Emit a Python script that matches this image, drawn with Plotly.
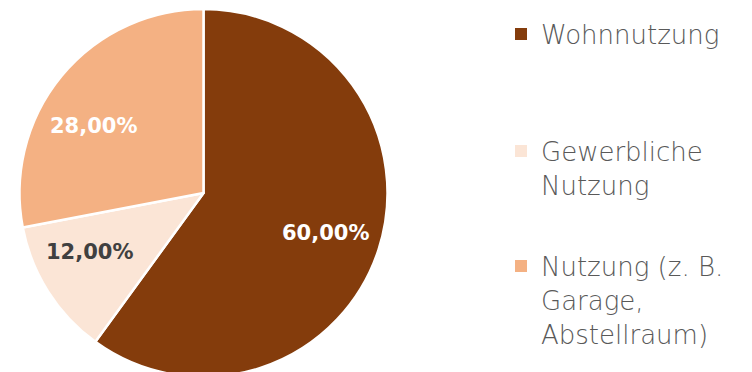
import math
import plotly.graph_objects as go

# Nutzungsanteile
categories = ["Wohnnutzung", "Gewerbliche Nutzung", "Nutzung (z. B. Garage, Abstellraum)"]
legend_labels = ["Wohnnutzung", "Gewerbliche<br>Nutzung", "Nutzung (z. B.<br>Garage,<br>Abstellraum)"]
shares = [60, 12, 28]
colors = ["#843C0C", "#FBE5D6", "#F4B183"]
label_colors = ["#FFFFFF", "#404040", "#FFFFFF"]

W, H = 752, 377

# pie geometry in pixels
cx, cy, R = 203.5, 193.0, 184.0

fig = go.Figure()

fig.add_trace(go.Pie(
    labels=categories,
    values=shares,
    sort=False,
    direction="clockwise",
    rotation=0,
    marker=dict(colors=colors, line=dict(color="#FFFFFF", width=2.5)),
    textinfo="none",
    domain=dict(x=[(cx - R) / W, (cx + R) / W], y=[1 - (cy + R) / H, 1 - (cy - R) / H]),
    showlegend=False,
    hoverinfo="label+percent",
))

# value labels placed inside each slice, around its bisector
label_radius = 0.70
label_angle_nudge = [0.0, -5.0, 8.0]  # degrees
total = sum(shares)
start = 90.0
annotations = []
for val, col, nudge in zip(shares, label_colors, label_angle_nudge):
    span = 360.0 * val / total
    mid = math.radians(start - span / 2 + nudge)
    start -= span
    px = cx + label_radius * R * math.cos(mid)
    py = cy - label_radius * R * math.sin(mid)
    annotations.append(dict(
        x=px / W, y=1 - py / H, xref="paper", yref="paper",
        xanchor="center", yanchor="middle", showarrow=False,
        text=f"{val:.2f}".replace(".", ",") + "%",
        font=dict(family="DejaVu Sans", size=21, weight="bold", color=col),
    ))

# Legend entries, each in its own legend box so the spacing can be set freely
legend_font = dict(family="DejaVu Sans", size=26, color="#595959", weight=300)
legend_tops = [10.5, 127.5, 242.5]
legend_ids = ["legend", "legend2", "legend3"]
for name, col, lid in zip(legend_labels, colors, legend_ids):
    fig.add_trace(go.Scatter(
        x=[None], y=[None], mode="markers",
        marker=dict(symbol="square", size=12, color=col),
        name=name, legend=lid, showlegend=True, hoverinfo="skip",
    ))

legend_common = dict(
    xanchor="left", yanchor="top", x=501 / W,
    font=legend_font, valign="top", bgcolor="rgba(0,0,0,0)",
    borderwidth=0, itemclick=False, itemdoubleclick=False,
)
layout_legends = {}
for lid, top in zip(legend_ids, legend_tops):
    layout_legends[lid] = dict(legend_common, y=1 - top / H)

fig.update_layout(
    width=W, height=H,
    margin=dict(l=0, r=0, t=0, b=0),
    paper_bgcolor="#FFFFFF",
    plot_bgcolor="#FFFFFF",
    separators=",.",
    xaxis=dict(visible=False),
    yaxis=dict(visible=False),
    annotations=annotations,
    **layout_legends,
)

fig.write_html(
    "out.html",
    post_script="document.body.style.overflow='hidden';document.documentElement.style.overflow='hidden';",
)
